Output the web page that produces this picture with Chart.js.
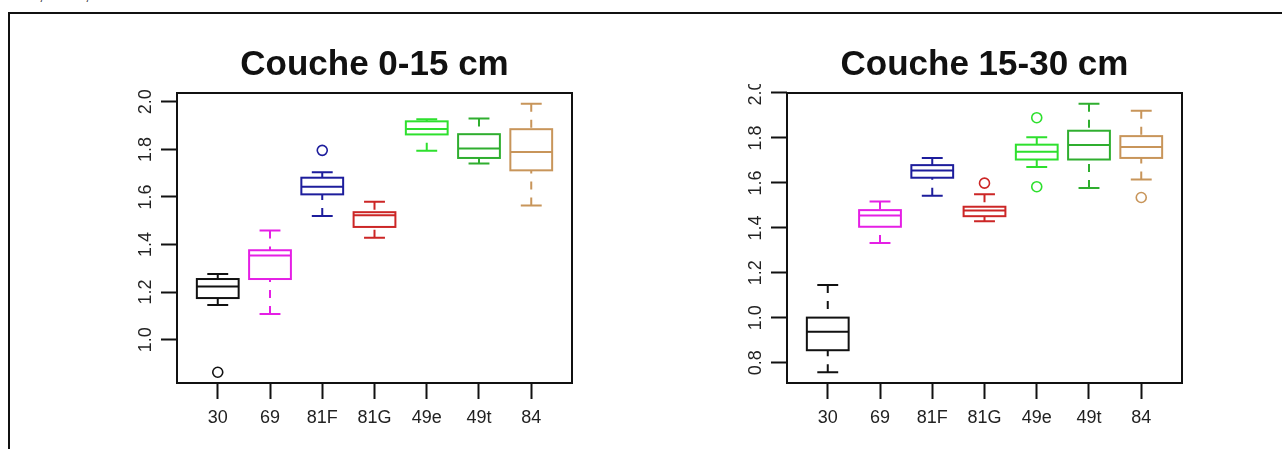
<!DOCTYPE html>
<html>
<head>
<meta charset="utf-8">
<script src="https://cdn.jsdelivr.net/npm/chart.js@4.4.1/dist/chart.umd.min.js"></script>
<style>
  html, body { margin: 0; padding: 0; background: #fff; }
  #page { position: relative; width: 1282px; height: 449px; overflow: hidden; background: #fff; }
  #page canvas { position: absolute; top: 0; }
  #layerTop { left: 0; }
  #layerDeep { left: 641px; }
  #frame { position: absolute; left: 8px; top: 12px; width: 1300px; height: 460px;
           border-top: 2px solid #111; border-left: 2px solid #111; pointer-events: none; }
  .cut { position: absolute; top: -13px; font: 16px/16px 'Liberation Sans', sans-serif; color: #333; }
</style>
</head>
<body>
<div id="page">
  <span class="cut" style="left:39px">,</span>
  <span class="cut" style="left:85px">,</span>
  <div id="frame"></div>
  <canvas id="layerTop" width="641" height="449"></canvas>
  <canvas id="layerDeep" width="641" height="449"></canvas>
</div>
<script>
const groups = ['30', '69', '81F', '81G', '49e', '49t', '84'];

// Couche 0-15 cm
const lowTop = [1.146, 1.108, 1.520, 1.429, 1.794, 1.741, 1.564];
const q1Top = [1.175, 1.255, 1.611, 1.474, 1.863, 1.764, 1.712];
const medTop = [1.224, 1.354, 1.643, 1.523, 1.886, 1.804, 1.789];
const q3Top = [1.255, 1.376, 1.681, 1.536, 1.918, 1.864, 1.885];
const highTop = [1.276, 1.459, 1.704, 1.580, 1.927, 1.930, 1.992];
const outGroupTop = [1, 3];
const outValueTop = [0.863, 1.796];
const yTicksTop = [1.0, 1.2, 1.4, 1.6, 1.8, 2.0];

// Couche 15-30 cm
const lowDeep = [0.758, 1.333, 1.543, 1.429, 1.671, 1.577, 1.615];
const q1Deep = [0.856, 1.405, 1.623, 1.452, 1.704, 1.704, 1.711];
const medDeep = [0.938, 1.455, 1.655, 1.477, 1.738, 1.768, 1.760];
const q3Deep = [1.001, 1.479, 1.679, 1.494, 1.770, 1.832, 1.808];
const highDeep = [1.146, 1.517, 1.711, 1.550, 1.803, 1.952, 1.921];
const outGroupDeep = [4, 5, 5, 7];
const outValueDeep = [1.599, 1.890, 1.583, 1.535];
const yTicksDeep = [0.8, 1.0, 1.2, 1.4, 1.6, 1.8, 2.0];

const colors = ['#111111', '#e51fe5', '#1d1d9c', '#cc2626', '#2ee02e', '#2fae2f', '#c8955a'];
const FONT = "'Liberation Sans', Arial, sans-serif";

// boxes, whiskers and the frame around the plot region
function boxPlugin(s) {
  return {
    id: 'boxes',
    afterDatasetsDraw(chart) {
      const { ctx, scales: { x, y }, chartArea: a } = chart;
      const unit = x.getPixelForValue(1) - x.getPixelForValue(0);
      const bw = unit * 0.4, sw = unit * 0.2;
      ctx.save();
      ctx.lineWidth = 2;
      s.med.forEach((m, i) => {
        const cx = x.getPixelForValue(i + 1);
        const yl = y.getPixelForValue(s.low[i]);
        const y1 = y.getPixelForValue(s.q1[i]);
        const ym = y.getPixelForValue(m);
        const y3 = y.getPixelForValue(s.q3[i]);
        const yh = y.getPixelForValue(s.high[i]);
        ctx.strokeStyle = colors[i];
        ctx.setLineDash([8, 8]);
        ctx.beginPath();
        ctx.moveTo(cx, yl); ctx.lineTo(cx, y1);
        ctx.moveTo(cx, yh); ctx.lineTo(cx, y3);
        ctx.stroke();
        ctx.setLineDash([]);
        ctx.beginPath();
        ctx.moveTo(cx - sw, yl); ctx.lineTo(cx + sw, yl);
        ctx.moveTo(cx - sw, yh); ctx.lineTo(cx + sw, yh);
        ctx.moveTo(cx - bw, ym); ctx.lineTo(cx + bw, ym);
        ctx.stroke();
        ctx.strokeRect(cx - bw, y3, bw * 2, y1 - y3);
      });
      ctx.strokeStyle = '#111';
      ctx.strokeRect(a.left, a.top, a.right - a.left, a.bottom - a.top);
      ctx.restore();
    }
  };
}

// y tick labels written bottom-to-top beside the axis
function yLabelPlugin(clipTop) {
  return {
    id: 'yLabels',
    afterDraw(chart) {
      const { ctx, scales: { y }, chartArea: a } = chart;
      ctx.save();
      ctx.beginPath();
      ctx.rect(0, clipTop, chart.width, chart.height);
      ctx.clip();
      ctx.font = '18px ' + FONT;
      ctx.fillStyle = '#222';
      ctx.textAlign = 'center';
      ctx.textBaseline = 'alphabetic';
      y.ticks.forEach(t => {
        ctx.save();
        ctx.translate(a.left - 26, y.getPixelForValue(t.value));
        ctx.rotate(-Math.PI / 2);
        ctx.fillText(t.value.toFixed(1), 0, 0);
        ctx.restore();
      });
      ctx.restore();
    }
  };
}

function drawLayer(id, title, s, outGroups, outValues, yTicks, pad, clipTop) {
  const all = s.low.concat(s.high, outValues);
  const lo = Math.min(...all), hi = Math.max(...all);
  const ext = (hi - lo) * 0.04;
  const n = groups.length;
  const tickGrid = { drawOnChartArea: false, drawTicks: true, tickLength: 16, tickWidth: 2, tickColor: '#111' };

  new Chart(document.getElementById(id), {
    type: 'scatter',
    data: {
      datasets: [{
        data: outGroups.map((g, k) => ({ x: g, y: outValues[k] })),
        pointRadius: 5,
        pointBorderWidth: 1.6,
        pointBackgroundColor: 'rgba(0,0,0,0)',
        pointBorderColor: outGroups.map(g => colors[g - 1])
      }]
    },
    options: {
      responsive: false,
      animation: false,
      layout: { padding: pad },
      plugins: {
        legend: { display: false },
        tooltip: { enabled: false },
        title: {
          display: true,
          text: title,
          fullSize: false,
          color: '#111',
          font: { family: FONT, size: 35, weight: 'bold' },
          padding: { top: 3, bottom: 7 }
        }
      },
      scales: {
        x: {
          type: 'linear',
          min: 0.5 - 0.04 * n,
          max: n + 0.5 + 0.04 * n,
          afterBuildTicks: sc => { sc.ticks = groups.map((g, i) => ({ value: i + 1 })); },
          afterFit: sc => { sc.height = 66; },
          border: { display: false },
          grid: tickGrid,
          ticks: {
            autoSkip: false, maxRotation: 0, minRotation: 0, padding: 8,
            color: '#222', font: { family: FONT, size: 18 },
            callback: v => groups[v - 1]
          }
        },
        y: {
          type: 'linear',
          min: lo - ext,
          max: hi + ext,
          afterBuildTicks: sc => { sc.ticks = yTicks.map(v => ({ value: v })); },
          afterFit: sc => { sc.width = 50; },
          border: { display: false },
          grid: tickGrid,
          ticks: { display: false }
        }
      }
    },
    plugins: [boxPlugin(s), yLabelPlugin(clipTop)]
  });
}

drawLayer('layerTop', 'Couche 0-15 cm',
  { low: lowTop, q1: q1Top, med: medTop, q3: q3Top, high: highTop },
  outGroupTop, outValueTop, yTicksTop,
  { left: 127, right: 69, top: 41, bottom: 0 }, 0);

drawLayer('layerDeep', 'Couche 15-30 cm',
  { low: lowDeep, q1: q1Deep, med: medDeep, q3: q3Deep, high: highDeep },
  outGroupDeep, outValueDeep, yTicksDeep,
  { left: 96, right: 100, top: 41, bottom: 0 }, 84);
</script>
</body>
</html>
